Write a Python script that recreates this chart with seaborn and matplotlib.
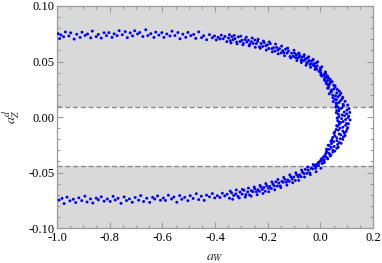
import numpy as np
import pandas as pd
import seaborn as sns
import matplotlib.pyplot as plt
from matplotlib.ticker import MultipleLocator, FormatStrFormatter

# upper branch, far left / flat part
upper_far_x = [-0.995, -0.990, -0.985, -0.975, -0.968, -0.955, -0.948, -0.935, -0.925, -0.912,
               -0.905, -0.893, -0.884, -0.872, -0.866, -0.851, -0.843, -0.832, -0.821, -0.812,
               -0.803, -0.791, -0.783, -0.772, -0.764, -0.752, -0.741, -0.733, -0.722, -0.713,
               -0.705, -0.694, -0.686, -0.674, -0.663, -0.655, -0.644, -0.632, -0.625, -0.613,
               -0.602, -0.594, -0.583, -0.571, -0.563, -0.552, -0.541, -0.533, -0.522, -0.511,
               -0.503, -0.492, -0.481, -0.473, -0.462, -0.451, -0.443, -0.432, -0.421, -0.410]
upper_far_y = [0.0750, 0.0707, 0.0739, 0.0723, 0.0766, 0.0730, 0.0758, 0.0702, 0.0745, 0.0717,
               0.0764, 0.0735, 0.0748, 0.0713, 0.0774, 0.0724, 0.0744, 0.0711, 0.0759, 0.0733,
               0.0760, 0.0717, 0.0749, 0.0733, 0.0778, 0.0741, 0.0769, 0.0715, 0.0758, 0.0731,
               0.0777, 0.0748, 0.0761, 0.0725, 0.0786, 0.0734, 0.0751, 0.0717, 0.0764, 0.0738,
               0.0760, 0.0717, 0.0748, 0.0730, 0.0773, 0.0734, 0.0761, 0.0705, 0.0746, 0.0718,
               0.0762, 0.0733, 0.0744, 0.0708, 0.0767, 0.0715, 0.0732, 0.0696, 0.0742, 0.0714]

# upper branch, bending part
upper_mid_x = [-0.402, -0.395, -0.388, -0.381, -0.376, -0.369, -0.362, -0.355, -0.349, -0.342,
               -0.336, -0.331, -0.324, -0.318, -0.311, -0.305, -0.298, -0.292, -0.286, -0.279,
               -0.273, -0.268, -0.262, -0.255, -0.249, -0.243, -0.238, -0.231, -0.225, -0.219,
               -0.213, -0.207, -0.201, -0.196, -0.190, -0.184, -0.178, -0.172, -0.166, -0.161,
               -0.155, -0.149, -0.143, -0.138, -0.132, -0.126, -0.121, -0.115, -0.109, -0.103,
               -0.098, -0.094, -0.091, -0.087, -0.084, -0.080, -0.077, -0.073, -0.070, -0.066,
               -0.063, -0.059, -0.056, -0.052, -0.049, -0.046, -0.042, -0.039, -0.035, -0.032,
               -0.029, -0.025, -0.022, -0.018, -0.015, -0.012,
               -0.345, -0.339, -0.327, -0.316, -0.302, -0.294, -0.281, -0.270, -0.259, -0.247,
               -0.236, -0.228, -0.216, -0.205, -0.194, -0.182, -0.170, -0.160, -0.147, -0.136,
               -0.124, -0.112, -0.100, -0.089, -0.081, -0.072, -0.061, -0.054, -0.044, -0.037,
               -0.027, -0.020, -0.010, -0.005, 0.006, 0.012]
upper_mid_y = [0.0730, 0.0694, 0.0718, 0.0703, 0.0737, 0.0705, 0.0726, 0.0679, 0.0712, 0.0688,
               0.0723, 0.0697, 0.0706, 0.0675, 0.0722, 0.0680, 0.0691, 0.0663, 0.0698, 0.0676,
               0.0691, 0.0655, 0.0678, 0.0662, 0.0694, 0.0661, 0.0681, 0.0632, 0.0662, 0.0636,
               0.0670, 0.0642, 0.0650, 0.0617, 0.0661, 0.0616, 0.0624, 0.0594, 0.0627, 0.0603,
               0.0616, 0.0577, 0.0597, 0.0580, 0.0611, 0.0576, 0.0595, 0.0545, 0.0574, 0.0547,
               0.0575, 0.0536, 0.0558, 0.0531, 0.0570, 0.0540, 0.0552, 0.0512, 0.0537, 0.0509,
               0.0545, 0.0511, 0.0524, 0.0486, 0.0531, 0.0498, 0.0507, 0.0474, 0.0502, 0.0478,
               0.0511, 0.0463, 0.0481, 0.0452, 0.0489, 0.0461,
               0.0741, 0.0668, 0.0735, 0.0659, 0.0728, 0.0651, 0.0719, 0.0641, 0.0712, 0.0628,
               0.0701, 0.0619, 0.0684, 0.0603, 0.0676, 0.0587, 0.0657, 0.0569, 0.0639, 0.0552,
               0.0621, 0.0532, 0.0601, 0.0509, 0.0576, 0.0491, 0.0561, 0.0466, 0.0542, 0.0448,
               0.0519, 0.0429, 0.0497, 0.0412, 0.0452, 0.0378]

# turning region near a_W ~ 0.09
tip_x = [0.000, -0.014, 0.001, -0.001, 0.019, 0.002, 0.0165, 0.002, 0.027, 0.019,
         0.027, 0.016, 0.038, 0.027, 0.038, 0.022, 0.037, 0.031, 0.051, 0.032,
         0.056, 0.028, 0.051, 0.042, 0.072, 0.042, 0.0625, 0.034, 0.074, 0.0576,
         0.067, 0.048, 0.083, 0.061, 0.077, 0.049, 0.071, 0.0625, 0.087, 0.061,
         0.0875, 0.059, 0.081, 0.072, 0.101, 0.070, 0.0906, 0.061, 0.100, 0.0828,
         0.0915, 0.071, 0.105, 0.081, 0.096, 0.066, 0.087, 0.077, 0.0995, 0.072,
         0.096, 0.0653, 0.0856, 0.075, 0.1016, 0.068, 0.0857, 0.0544, 0.091, 0.0715,
         0.078, 0.0554, 0.0878, 0.0623, 0.0757, 0.0438, 0.0629, 0.0507, 0.0718, 0.0426,
         0.0655, 0.0336, 0.0524, 0.0416, 0.0623, 0.0342, 0.0476, 0.0236, 0.0472, 0.032,
         0.0348, 0.0184, 0.0376, 0.0198, 0.0255, 0.0046, 0.0144, 0.0045, 0.015, -0.005,
         0.0066, -0.0153, -0.0063, -0.0162,
         0.020, 0.006, 0.033, 0.016, 0.045, 0.024, 0.056, 0.030, 0.064, 0.040,
         0.078, 0.047, 0.085, 0.055, 0.094, 0.060, 0.104, 0.066, 0.109, 0.062,
         0.112, 0.069, 0.108, 0.064, 0.113, 0.070, 0.107, 0.062, 0.104, 0.060,
         0.098, 0.052, 0.094, 0.047, 0.085, 0.040, 0.079, 0.030, 0.068, 0.024,
         0.055, 0.022, 0.040, 0.012, 0.028, 0.000, 0.014, -0.014]
tip_y = [0.0442, 0.0431, 0.0425, 0.0414, 0.0406, 0.0397, 0.0389, 0.0378, 0.0371, 0.0362,
         0.0354, 0.0345, 0.0337, 0.0328, 0.0319, 0.0311, 0.0302, 0.0294, 0.0286, 0.0277,
         0.0268, 0.0259, 0.0251, 0.0243, 0.0234, 0.0226, 0.0217, 0.0209, 0.0198, 0.0191,
         0.0182, 0.0174, 0.0165, 0.0157, 0.0148, 0.0139, 0.0131, 0.0122, 0.0114, 0.0105,
         0.0097, 0.0088, 0.0079, 0.0071, 0.0062, 0.0054, 0.0045, 0.0037, 0.0028, 0.0019,
         0.0011, 0.0002, -0.0006, -0.0015, -0.0023, -0.0032, -0.0041, -0.0049, -0.0058, -0.0066,
         -0.0075, -0.0084, -0.0092, -0.0101, -0.0109, -0.0118, -0.0127, -0.0135, -0.0144, -0.0153,
         -0.0161, -0.0170, -0.0179, -0.0187, -0.0196, -0.0205, -0.0213, -0.0222, -0.0230, -0.0239,
         -0.0248, -0.0256, -0.0265, -0.0274, -0.0282, -0.0291, -0.0299, -0.0308, -0.0316, -0.0325,
         -0.0334, -0.0342, -0.0351, -0.0359, -0.0368, -0.0376, -0.0385, -0.0393, -0.0402, -0.0411,
         -0.0419, -0.0428, -0.0437, -0.0446,
         0.0392, 0.0368, 0.0349, 0.0331, 0.0318, 0.0297, 0.0281, 0.0262, 0.0248, 0.0229,
         0.0214, 0.0196, 0.0178, 0.0159, 0.0141, 0.0126, 0.0108, 0.0091, 0.0074, 0.0057,
         0.0041, 0.0024, 0.0008, -0.0009, -0.0027, -0.0044, -0.0061, -0.0078, -0.0096, -0.0113,
         -0.0131, -0.0148, -0.0166, -0.0184, -0.0202, -0.0219, -0.0237, -0.0254, -0.0272, -0.0289,
         -0.0307, -0.0324, -0.0342, -0.0359, -0.0377, -0.0394, -0.0412, -0.0431]

# lower branch, bending part
lower_mid_x = [-0.018, -0.024, -0.029, -0.035, -0.040, -0.046, -0.051, -0.057, -0.062, -0.068,
               -0.073, -0.079, -0.084, -0.090, -0.095, -0.101, -0.107, -0.112, -0.118, -0.124,
               -0.129, -0.135, -0.141, -0.146, -0.152, -0.158, -0.163, -0.169, -0.175, -0.180,
               -0.186, -0.192, -0.197, -0.203, -0.209, -0.214, -0.220, -0.226, -0.231, -0.237,
               -0.243, -0.249, -0.256, -0.262, -0.269, -0.276, -0.283, -0.290, -0.297, -0.305,
               -0.313, -0.321, -0.329, -0.337, -0.345, -0.354, -0.363, -0.372, -0.381, -0.391,
               -0.342, -0.333, -0.319, -0.308, -0.296, -0.285, -0.273, -0.263, -0.251, -0.240,
               -0.229, -0.218, -0.207, -0.196, -0.184, -0.173, -0.161, -0.150, -0.139, -0.127,
               -0.116, -0.105, -0.093, -0.082, -0.071, -0.060, -0.048, -0.038, -0.027, -0.016,
               -0.008, 0.002]
lower_mid_y = [-0.0462, -0.0439, -0.0467, -0.0462, -0.0503, -0.0479, -0.0508, -0.0472, -0.0510, -0.0497,
               -0.0538, -0.0521, -0.0539, -0.0520, -0.0572, -0.0541, -0.0560, -0.0539, -0.0580, -0.0568,
               -0.0587, -0.0561, -0.0588, -0.0580, -0.0621, -0.0595, -0.0622, -0.0584, -0.0621, -0.0605,
               -0.0645, -0.0626, -0.0641, -0.0619, -0.0669, -0.0635, -0.0652, -0.0630, -0.0669, -0.0655,
               -0.0674, -0.0647, -0.0673, -0.0664, -0.0702, -0.0675, -0.0700, -0.0660, -0.0695, -0.0677,
               -0.0715, -0.0693, -0.0707, -0.0683, -0.0732, -0.0696, -0.0711, -0.0687, -0.0725, -0.0709,
               -0.0668, -0.0741, -0.0657, -0.0729, -0.0652, -0.0722, -0.0641, -0.0713, -0.0631, -0.0701,
               -0.0617, -0.0689, -0.0600, -0.0673, -0.0585, -0.0656, -0.0563, -0.0636, -0.0544, -0.0614,
               -0.0521, -0.0592, -0.0503, -0.0571, -0.0478, -0.0541, -0.0451, -0.0519, -0.0428, -0.0493,
               -0.0410, -0.0462]

# lower branch, far left / flat part
lower_far_x = [-0.401, -0.410, -0.421, -0.432, -0.441, -0.452, -0.462, -0.471, -0.483, -0.494,
               -0.503, -0.515, -0.526, -0.534, -0.545, -0.556, -0.565, -0.577, -0.588, -0.596,
               -0.607, -0.618, -0.629, -0.637, -0.648, -0.659, -0.671, -0.682, -0.690, -0.703,
               -0.714, -0.725, -0.736, -0.745, -0.757, -0.768, -0.779, -0.787, -0.798, -0.809,
               -0.821, -0.832, -0.843, -0.851, -0.864, -0.873, -0.886, -0.894, -0.906, -0.917,
               -0.929, -0.938, -0.951, -0.962, -0.973, -0.981, -0.992]
lower_far_y = [-0.0729, -0.0690, -0.0719, -0.0704, -0.0751, -0.0714, -0.0744, -0.0691, -0.0734, -0.0709,
               -0.0754, -0.0724, -0.0741, -0.0708, -0.0768, -0.0721, -0.0738, -0.0705, -0.0752, -0.0730,
               -0.0750, -0.0711, -0.0739, -0.0724, -0.0769, -0.0732, -0.0761, -0.0708, -0.0749, -0.0725,
               -0.0768, -0.0738, -0.0753, -0.0720, -0.0778, -0.0732, -0.0748, -0.0715, -0.0761, -0.0739,
               -0.0758, -0.0719, -0.0746, -0.0731, -0.0775, -0.0738, -0.0766, -0.0713, -0.0753, -0.0728,
               -0.0771, -0.0741, -0.0755, -0.0722, -0.0780, -0.0733, -0.0749]

# excluded-band limits (dashed lines)
band_top = 0.0088
band_bottom = -0.044

df = pd.DataFrame({
    'aW': upper_far_x + upper_mid_x + tip_x + lower_mid_x + lower_far_x,
    'aZ': upper_far_y + upper_mid_y + tip_y + lower_mid_y + lower_far_y,
})

sns.set_style("ticks")
plt.rcParams['font.family'] = ['Liberation Serif', 'DejaVu Serif']
plt.rcParams['mathtext.fontset'] = 'stix'

fig = plt.figure(figsize=(3.82, 2.63), dpi=100)
ax = fig.add_axes([57 / 382, 1 - 228 / 263, 316 / 382, 222 / 263])

frame_gray = '#9a9a9a'
ax.axhspan(band_top, 0.10, color='#d9d9d9', lw=0, zorder=0)
ax.axhspan(-0.10, band_bottom, color='#d9d9d9', lw=0, zorder=0)
for yv in (band_top, band_bottom):
    ax.axhline(yv, color='#8c8c8c', lw=1.0, dashes=(3.6, 2.0), zorder=1)

sns.scatterplot(data=df, x='aW', y='aZ', ax=ax, color='#0000ff', s=4.5,
                linewidth=0, edgecolor='none', zorder=3)

ax.set_xlim(-1.0, 0.2)
ax.set_ylim(-0.10, 0.10)
ax.xaxis.set_major_locator(MultipleLocator(0.2))
ax.xaxis.set_minor_locator(MultipleLocator(0.05))
ax.yaxis.set_major_locator(MultipleLocator(0.05))
ax.yaxis.set_minor_locator(MultipleLocator(0.01))
ax.xaxis.set_major_formatter(FormatStrFormatter('%.1f'))
ax.yaxis.set_major_formatter(FormatStrFormatter('%.2f'))

ax.tick_params(which='both', direction='in', top=True, right=True,
               color=frame_gray, labelsize=9, labelcolor='black', width=0.8)
ax.tick_params(which='major', length=4)
ax.tick_params(which='minor', length=2)
ax.tick_params(axis='x', which='major', pad=3)
ax.tick_params(axis='y', which='major', pad=2)
for sp in ax.spines.values():
    sp.set_color(frame_gray)
    sp.set_linewidth(0.9)

ax.set_xlabel(r'$a_W$', fontsize=10, labelpad=5)
ax.set_ylabel(r'$a_Z^d$', fontsize=10, labelpad=4)

fig.savefig('out.png', dpi=100)
